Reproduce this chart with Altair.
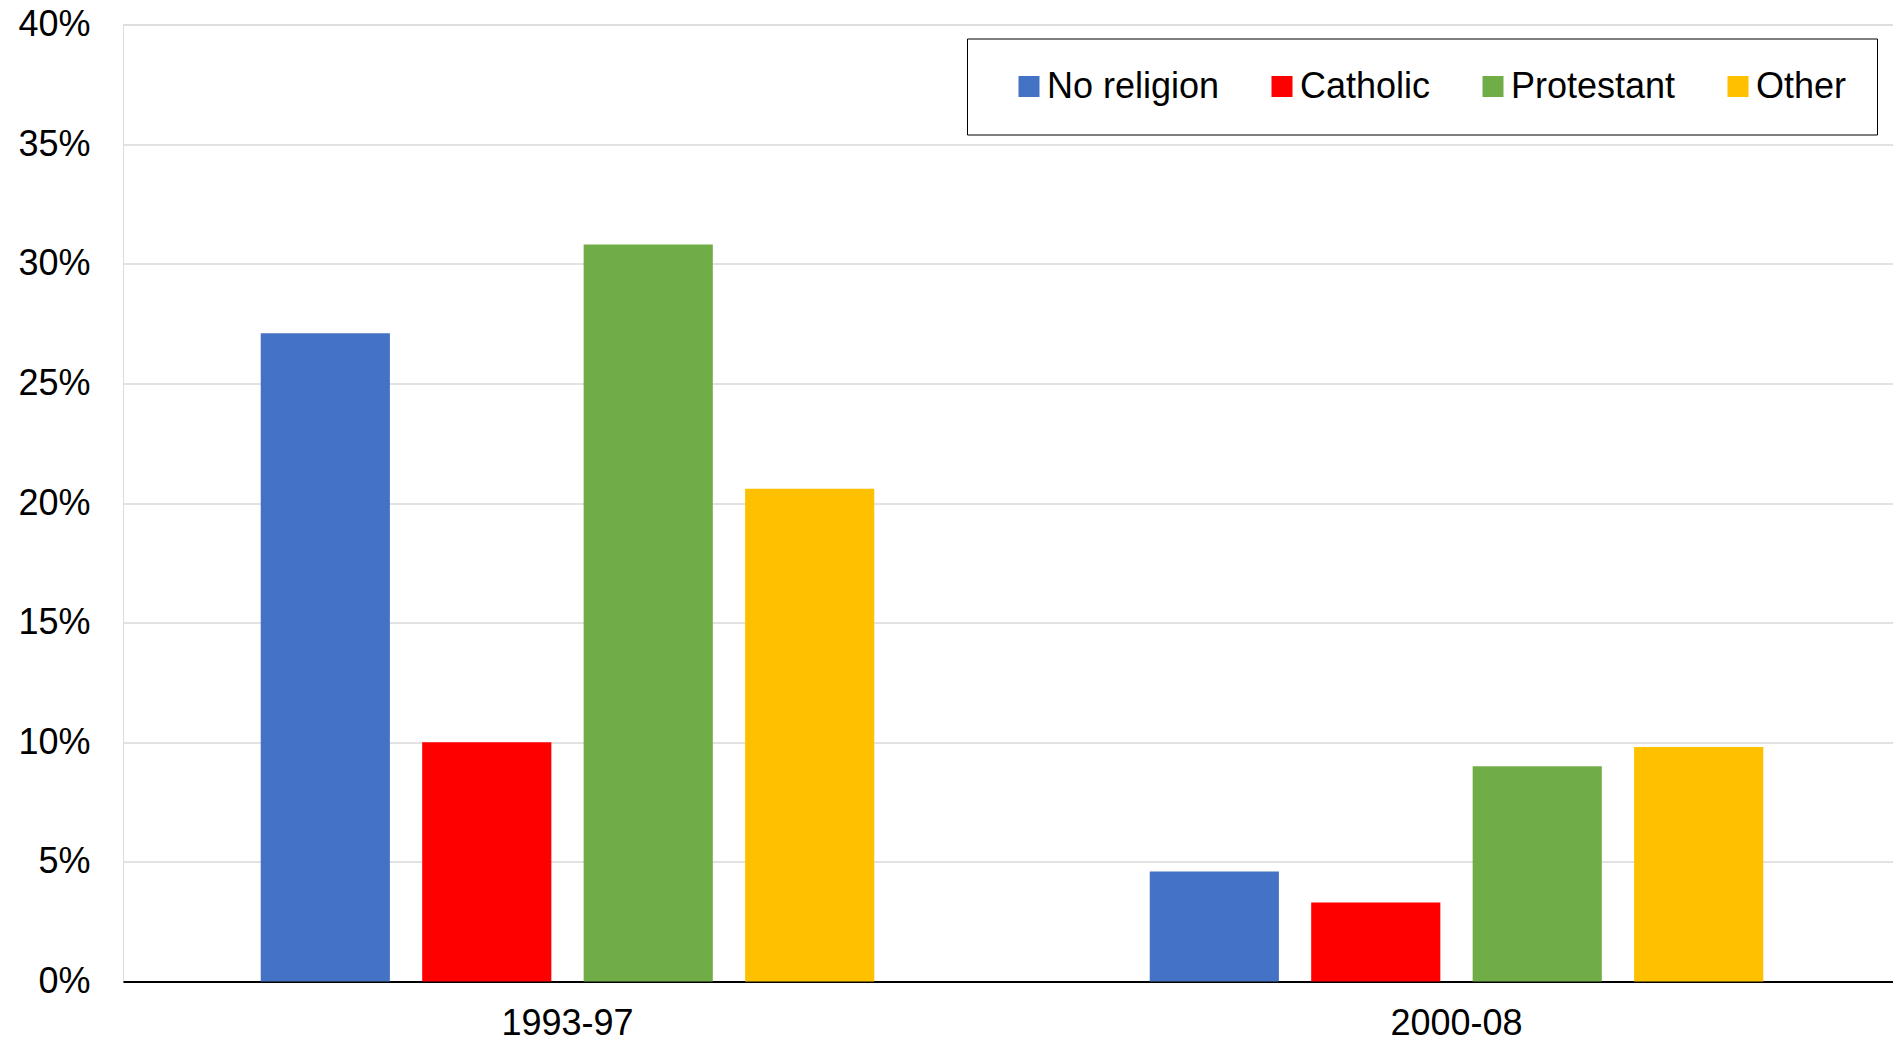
import altair as alt
import pandas as pd

periods = ["1993-97", "2000-08"]
religions = ["No religion", "Catholic", "Protestant", "Other"]
share_1993_97 = [27.1, 10.0, 30.8, 20.6]
share_2000_08 = [4.6, 3.3, 9.0, 9.8]
colors = ["#4472C4", "#FF0000", "#70AD47", "#FFC000"]
y_ticks = [0.0, 0.05, 0.10, 0.15, 0.20, 0.25, 0.30, 0.35, 0.40]

rows = []
for p, vals in zip(periods, [share_1993_97, share_2000_08]):
    for r, v in zip(religions, vals):
        rows.append({"period": p, "religion": r, "share": v / 100.0})
df = pd.DataFrame(rows)

FONT = "Liberation Sans"

chart = alt.Chart(df).mark_bar().encode(
    x=alt.X(
        "period:N",
        sort=periods,
        scale=alt.Scale(paddingInner=0, paddingOuter=0),
        axis=alt.Axis(
            title=None, labelAngle=0, labelFont=FONT, labelFontSize=36,
            labelColor="black", labelPadding=25, ticks=False, tickSize=0,
            domain=True, domainColor="black", domainWidth=2,
        ),
    ),
    xOffset=alt.XOffset(
        "religion:N", sort=religions,
        scale=alt.Scale(paddingInner=0.2, paddingOuter=0.853),
    ),
    y=alt.Y(
        "share:Q",
        scale=alt.Scale(domain=[0, 0.4], nice=False),
        axis=alt.Axis(
            title=None, values=y_ticks, format=".0%", labelFont=FONT,
            labelFontSize=36, labelColor="black", labelPadding=33,
            ticks=False, tickSize=0, domain=False,
            gridColor="#d9d9d9", gridWidth=1.3,
        ),
    ),
    color=alt.Color(
        "religion:N",
        sort=religions,
        scale=alt.Scale(domain=religions, range=colors),
        legend=alt.Legend(
            title=None, orient="none", legendX=844, legendY=14,
            direction="horizontal", symbolType="square", symbolSize=441,
            symbolStrokeWidth=0, symbolOpacity=1, symbolOffset=14,
            labelFont=FONT, labelFontSize=36, labelColor="black",
            labelOffset=0, labelLimit=0, columnPadding=30, padding=30,
            strokeColor="black", fillColor="white",
        ),
    ),
).properties(
    width=1778,
    height=957,
    autosize=alt.AutoSizeParams(type="none"),
    padding={"left": 115, "top": 16.5, "right": -8, "bottom": 54.5},
).configure_view(
    stroke="black", strokeWidth=1.5
).configure(background="white")

chart.save("out.html", embed_options={"renderer": "svg", "actions": False})
